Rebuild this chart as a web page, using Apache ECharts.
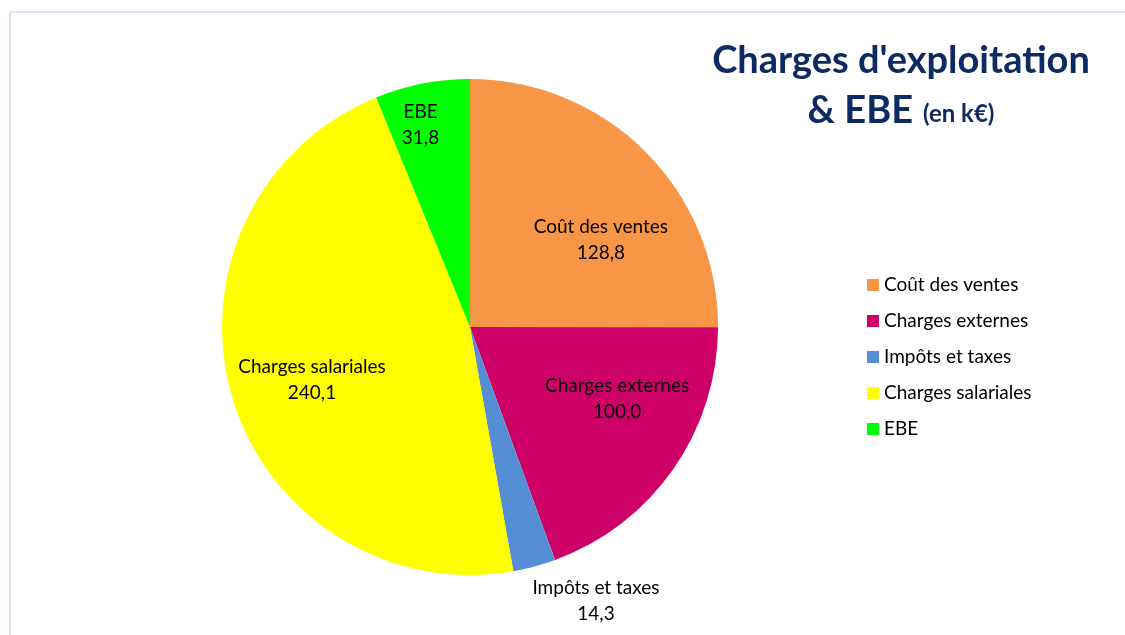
<!DOCTYPE html>
<html>
<head>
<meta charset="utf-8">
<script src="https://cdn.jsdelivr.net/npm/echarts@6/dist/echarts.min.js"></script>
<style>
  html, body { margin: 0; padding: 0; background: #fff; }
  #chart { width: 1125px; height: 635px; }
</style>
</head>
<body>
<div id="chart"></div>
<script>
var dom = document.getElementById("chart");
var myChart = echarts.init(dom);

// donnees du graphique (k€)
var categories = ['Coût des ventes', 'Charges externes', 'Impôts et taxes', 'Charges salariales', 'EBE'];
var values = [128.8, 100.0, 14.3, 240.1, 31.8];
var colors = ['#F79646', '#CC0066', '#558ED5', '#FFFF00', '#00FF00'];

// decalage des etiquettes pour imiter Excel
var labelShift = {
    'Coût des ventes': [41, 3],
    'Charges externes': [43, -1],
    'Impôts et taxes': [93, 151],
    'Charges salariales': [-36, 18],
    'EBE': [-25, -78]
};

var font = 'Lato';

var pieData = categories.map(function (c, i) {
    return {
        name: c,
        value: values[i],
        itemStyle: { color: colors[i] },
        label: { offset: labelShift[c] }
    };
});

var option = {
    animation: false,
    textStyle: { fontFamily: font },
    graphic: [{
        type: 'rect',
        shape: { x: 10, y: 12, width: 1300, height: 800 },
        style: { fill: 'none', stroke: '#DAE4F4', lineWidth: 2 },
        silent: true
    }],
    title: {
        text: "Charges d'exploitation",
        subtext: '{a|& EBE}{b|(en k€)}',
        left: 896,
        top: 37,
        textAlign: 'center',
        itemGap: 12,
        textStyle: {
            fontFamily: font,
            fontSize: 38,
            fontWeight: 'bold',
            color: '#0E2A62'
        },
        subtextStyle: {
            rich: {
                a: { fontFamily: font, fontSize: 38, fontWeight: 'bold', color: '#0E2A62', padding: [0, 10, 0, 0] },
                b: { fontFamily: font, fontSize: 24, fontWeight: 'bold', color: '#0E2A62', padding: [6, 0, 0, 0] }
            }
        }
    },
    legend: {
        orient: 'vertical',
        left: 862,
        top: 270,
        itemWidth: 12,
        itemHeight: 12,
        itemGap: 16,
        icon: 'rect',
        textStyle: { fontFamily: font, fontSize: 19, lineHeight: 20, color: '#000' },
        data: categories
    },
    series: [{
        type: 'pie',
        center: [470, 327],
        radius: 248,
        startAngle: 90,
        clockwise: true,
        data: pieData,
        label: {
            show: true,
            position: 'inside',
            fontFamily: font,
            fontSize: 19,
            lineHeight: 26,
            color: '#000',
            formatter: function (p) {
                return p.name + '\n' + p.value.toFixed(1).replace('.', ',');
            }
        },
        labelLine: { show: false },
        itemStyle: { borderWidth: 0 },
        emphasis: { disabled: true }
    }]
};

if (option && typeof option === 'object') {
    myChart.setOption(option);
}
</script>
</body>
</html>
